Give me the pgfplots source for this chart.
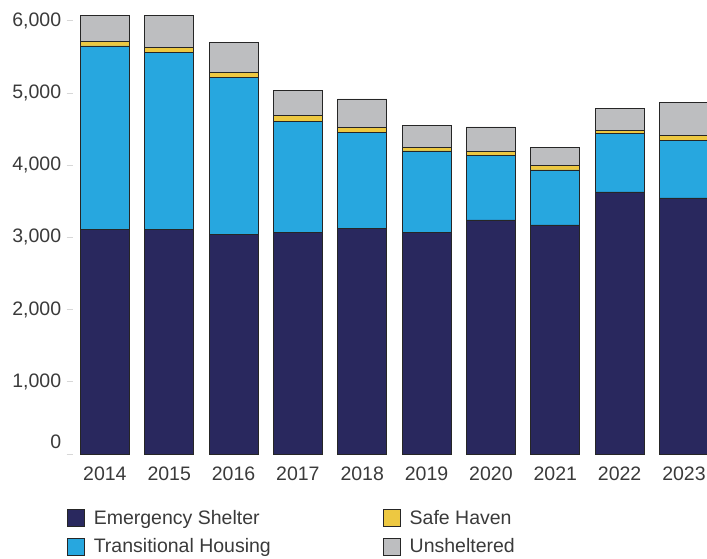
\documentclass[border=0pt]{standalone}
\usepackage{pgfplots}
\pgfplotsset{compat=1.18}
\usepackage{fontspec}
\setmainfont{Liberation Sans}
\definecolor{cNavy}{RGB}{41,40,94}
\definecolor{cBlue}{RGB}{39,167,223}
\definecolor{cYel}{RGB}{237,200,65}
\definecolor{cGray}{RGB}{189,190,192}
\definecolor{cTxt}{RGB}{58,58,58}
\definecolor{cTick}{RGB}{215,215,215}
\begin{document}
\begin{tikzpicture}
\begin{axis}[
  at={(72.7pt,104pt)}, anchor=south west,
  scale only axis, width=634.3pt, height=454pt,
  xmin=-0.5, xmax=9.358, ymin=0, ymax=6288,
  ybar stacked, bar width=0.762,
  axis line style={draw=none},
  xtick={0,...,9},
  xticklabels={2014,2015,2016,2017,2018,2019,2020,2021,2022,2023},
  ytick={1000,2000,3000,4000,5000,6000},
  extra y ticks={0},
  extra y tick style={yticklabel style={yshift=12pt}},
  extra x ticks={-0.5,0.5,1.5,2.5,3.5,4.5,5.5,6.5,7.5,8.5},
  extra x tick labels={},
  extra x tick style={major tick length=5pt, tick style={cTick, line width=0.8pt}},
  tick align=outside,
  x tick style={draw=none},
  y tick style={cTick, line width=0.8pt},
  major tick length=6pt,
  ticklabel style={font=\fontsize{19.5}{23}\selectfont, text=cTxt},
  xticklabel style={yshift=-3pt},
  yticklabel style={xshift=-2pt},
  /pgf/number format/.cd, 1000 sep={,}, assume math mode=true,
  /pgfplots/.cd,
  xtick pos=bottom, ytick pos=left,
  every axis plot/.append style={draw=black!85, line width=0.9pt},
  legend image code/.code={\draw[#1] (0pt,-8.5pt) rectangle (17pt,8.5pt); \path (24pt,0pt);},
  legend columns=2, transpose legend,
  legend style={at={(axis description cs:0,0)}, anchor=north west, xshift=-6pt, yshift=-54pt,
    draw=none, fill=none, inner sep=0pt, row sep=9pt,
    font=\fontsize{19.5}{23}\selectfont, text=cTxt,
    /tikz/every even column/.append style={column sep=2pt}},
  legend cell align=left,
]
\addplot[fill=cNavy] coordinates {(0,3112) (1,3112) (2,3043) (3,3065) (4,3126) (5,3065) (6,3241) (7,3172) (8,3629) (9,3546)};
\addlegendentry{\makebox[285pt][l]{Emergency Shelter}}
\addplot[fill=cBlue] coordinates {(0,2539) (1,2451) (2,2174) (3,1547) (4,1330) (5,1132) (6,891) (7,762) (8,807) (9,799)};
\addlegendentry{\makebox[285pt][l]{Transitional Housing}}
\addplot[fill=cYel] coordinates {(0,65) (1,70) (2,70) (3,83) (4,63) (5,45) (6,55) (7,65) (8,47) (9,64)};
\addlegendentry{Safe Haven}
\addplot[fill=cGray] coordinates {(0,354) (1,438) (2,415) (3,337) (4,398) (5,305) (6,342) (7,249) (8,305) (9,462)};
\addlegendentry{Unsheltered}
\end{axis}
\pgfresetboundingbox
\path[use as bounding box] (0,0) rectangle (707pt,558pt);
\end{tikzpicture}
\end{document}
